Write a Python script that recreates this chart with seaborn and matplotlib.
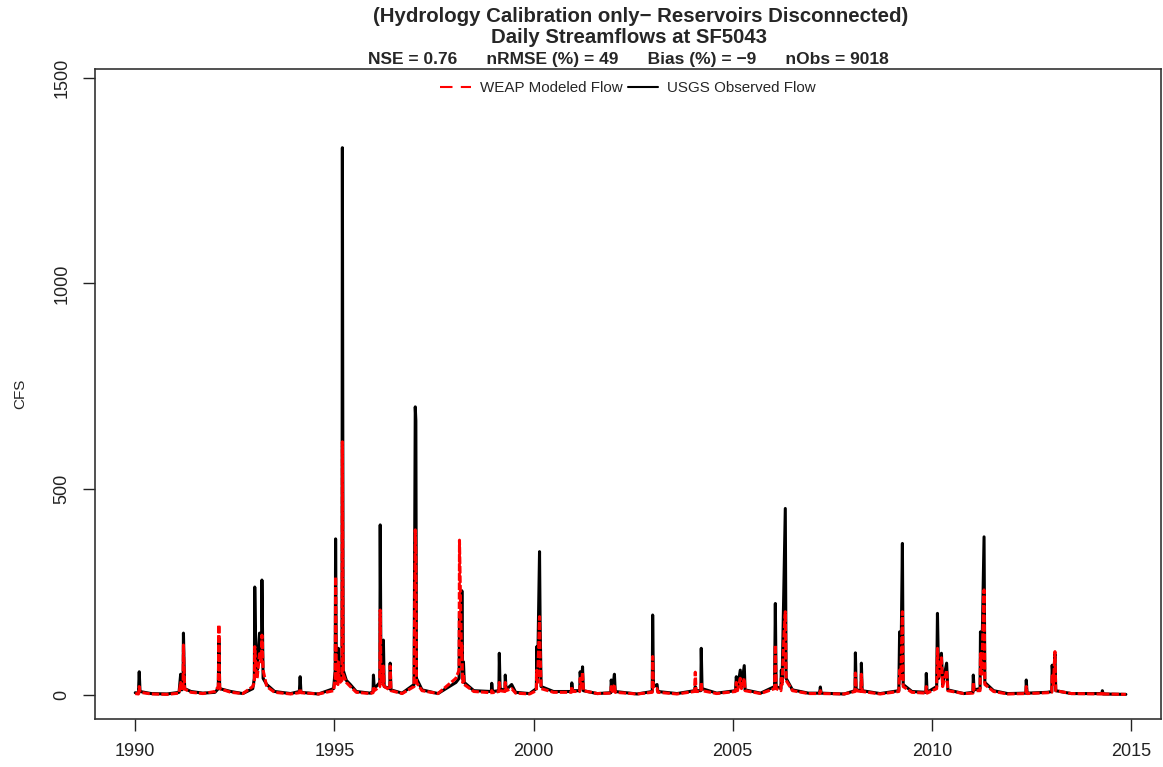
import matplotlib
matplotlib.use("Agg")
import matplotlib.pyplot as plt
import seaborn as sns
import pandas as pd
from matplotlib.lines import Line2D

# ---- data (decimal year, observed cfs, modeled cfs) ----
dates = [
    1990.00, 1990.08, 1990.10, 1990.12, 1990.40, 1990.80,
    1991.10, 1991.14, 1991.17, 1991.20, 1991.21, 1991.24, 1991.40, 1991.70,
    1992.00, 1992.085, 1992.10, 1992.12, 1992.40, 1992.70,
    1992.95, 1992.99, 1993.00, 1993.03, 1993.06, 1993.12, 1993.17, 1993.18, 1993.21, 1993.30, 1993.50, 1993.90,
    1994.12, 1994.14, 1994.16, 1994.60,
    1994.98, 1995.02, 1995.03, 1995.05, 1995.09, 1995.10, 1995.12, 1995.19, 1995.20, 1995.22, 1995.30, 1995.40, 1995.55, 1995.90,
    1995.97, 1995.98, 1996.00, 1996.14, 1996.15, 1996.17, 1996.22, 1996.23, 1996.25, 1996.39, 1996.40, 1996.42, 1996.70,
    1997.00, 1997.03, 1997.045, 1997.06, 1997.20, 1997.60,
    1998.05, 1998.13, 1998.14, 1998.19, 1998.20, 1998.22, 1998.24, 1998.26, 1998.50,
    1998.94, 1998.95, 1998.97, 1999.13, 1999.14, 1999.16, 1999.28, 1999.29, 1999.31, 1999.45, 1999.55, 1999.90,
    2000.07, 2000.08, 2000.10, 2000.15, 2000.165, 2000.19, 2000.50,
    2000.95, 2000.96, 2000.98, 2001.16, 2001.17, 2001.20, 2001.23, 2001.25, 2001.60,
    2001.94, 2001.95, 2001.98, 2002.03, 2002.05, 2002.60,
    2002.98, 2002.99, 2003.01, 2003.10, 2003.12, 2003.60,
    2004.04, 2004.06, 2004.08, 2004.20, 2004.21, 2004.23, 2004.60,
    2005.07, 2005.09, 2005.12, 2005.19, 2005.22, 2005.29, 2005.31, 2005.70,
    2006.05, 2006.07, 2006.09, 2006.21, 2006.22, 2006.24, 2006.29, 2006.32, 2006.34, 2006.50, 2006.90,
    2007.18, 2007.20, 2007.22, 2007.80,
    2008.07, 2008.08, 2008.10, 2008.22, 2008.23, 2008.25, 2008.70,
    2009.17, 2009.19, 2009.22, 2009.26, 2009.28, 2009.50, 2009.85, 2009.86, 2009.88,
    2010.12, 2010.14, 2010.17, 2010.24, 2010.27, 2010.37, 2010.40, 2010.80,
    2011.03, 2011.04, 2011.06, 2011.21, 2011.22, 2011.25, 2011.31, 2011.33, 2011.55, 2011.90,
    2012.36, 2012.37, 2012.39, 2012.90,
    2013.01, 2013.02, 2013.05, 2013.09, 2013.11, 2013.50,
    2014.27, 2014.28, 2014.30, 2014.87,
]
observed = [
    5, 4, 56, 8, 3, 2,
    6, 50, 12, 20, 150, 15, 8, 4,
    6, 15, 138, 15, 8, 3,
    15, 40, 262, 80, 60, 150, 100, 279, 40, 25, 8, 3,
    8, 44, 6, 2,
    15, 60, 379, 40, 30, 113, 35, 40, 1330, 60, 35, 25, 8, 4,
    8, 48, 15, 30, 413, 40, 30, 133, 20, 15, 77, 12, 4,
    25, 700, 666, 40, 12, 3,
    30, 40, 200, 120, 253, 40, 80, 30, 10,
    8, 28, 8, 10, 101, 15, 10, 48, 12, 25, 6, 3,
    15, 117, 40, 348, 170, 20, 8,
    8, 29, 10, 10, 56, 20, 68, 10, 3,
    5, 36, 10, 50, 8, 2,
    8, 194, 20, 25, 8, 3,
    10, 20, 10, 10, 113, 15, 4,
    10, 44, 15, 60, 20, 71, 12, 4,
    20, 222, 20, 15, 60, 30, 296, 453, 40, 12, 4,
    4, 19, 4, 2,
    10, 102, 12, 10, 77, 10, 3,
    10, 153, 40, 368, 25, 8, 6, 52, 6,
    20, 198, 40, 101, 25, 77, 12, 3,
    6, 48, 12, 15, 153, 60, 384, 30, 10, 3,
    4, 36, 4, 6,
    8, 72, 30, 99, 10, 3,
    3, 10, 2, 1,
]
modeled = [
    3, 2, 20, 6, 2, 1,
    4, 30, 10, 15, 121, 14, 6, 3,
    8, 20, 170, 15, 6, 3,
    20, 30, 117, 60, 40, 100, 80, 145, 60, 20, 6, 2,
    5, 15, 5, 2,
    10, 40, 287, 30, 25, 80, 28, 35, 615, 50, 30, 20, 6, 3,
    5, 20, 10, 20, 206, 35, 25, 70, 20, 12, 70, 10, 3,
    20, 401, 345, 30, 10, 3,
    40, 60, 376, 100, 120, 30, 50, 25, 8,
    5, 10, 5, 8, 30, 10, 8, 30, 10, 15, 4, 2,
    10, 60, 30, 190, 100, 15, 6,
    6, 20, 8, 8, 40, 20, 55, 10, 3,
    4, 20, 8, 25, 6, 2,
    6, 93, 15, 15, 6, 2,
    8, 55, 8, 8, 30, 10, 3,
    8, 30, 10, 40, 15, 40, 10, 3,
    15, 121, 15, 10, 40, 25, 150, 202, 35, 10, 3,
    3, 10, 3, 2,
    8, 53, 10, 8, 50, 8, 2,
    8, 60, 40, 202, 20, 6, 4, 20, 4,
    15, 113, 40, 90, 20, 60, 10, 3,
    4, 30, 10, 10, 100, 50, 255, 25, 8, 2,
    3, 20, 3, 5,
    6, 50, 25, 105, 10, 3,
    2, 8, 2, 1,
]
x_ticks = [1990, 1995, 2000, 2005, 2010, 2015]
y_ticks = [0, 500, 1000, 1500]
title_line1 = "(Hydrology Calibration only\u2212 Reservoirs Disconnected)"
title_line2 = "Daily Streamflows at SF5043"
stats_line = "NSE = 0.76      nRMSE (%) = 49      Bias (%) = \u22129      nObs = 9018"
legend_labels = ["WEAP Modeled Flow", "USGS Observed Flow"]

df = pd.DataFrame({"date": dates, "observed": observed, "modeled": modeled})

sns.set_style("ticks")
plt.rcParams["font.family"] = ["Liberation Sans", "DejaVu Sans"]

fig = plt.figure(figsize=(11.63, 7.67), dpi=100)
ax = fig.add_axes([0.0817, 0.0626, 0.9165, 0.8475])

sns.lineplot(data=df, x="date", y="observed", ax=ax, color="black",
             linewidth=2.2, estimator=None, sort=False, legend=False)
sns.lineplot(data=df, x="date", y="modeled", ax=ax, color="#ff0000",
             linewidth=2.2, estimator=None, sort=False, legend=False)
ax.lines[-1].set_dashes((2.4, 0.7))

ax.set_xlim(1988.99, 2015.75)
ax.set_ylim(-58.8, 1521.5)
ax.set_xticks(x_ticks)
ax.set_xticklabels([str(t) for t in x_ticks])
ax.set_yticks(y_ticks)
ax.set_yticklabels([str(t) for t in y_ticks], rotation=90, va="center")
ax.set_xlabel("")
ax.set_ylabel("CFS", fontsize=11, labelpad=19)
ax.tick_params(axis="both", length=8.5, width=1.0, labelsize=13, colors="#222222")
ax.tick_params(axis="x", pad=9)
ax.tick_params(axis="y", pad=9)
for s in ax.spines.values():
    s.set_visible(True)
    s.set_color("#333333")
    s.set_linewidth(1.2)

fig.text(0.551, 0.978, title_line1, ha="center", va="center", fontsize=14.7, fontweight="bold")
fig.text(0.541, 0.951, title_line2, ha="center", va="center", fontsize=14.7, fontweight="bold")
fig.text(0.540, 0.923, stats_line, ha="center", va="center", fontsize=12.5, fontweight="bold")

handles = [Line2D([], [], color="#ff0000", linewidth=1.5, linestyle=(0, (6, 4))),
           Line2D([], [], color="black", linewidth=1.5)]
ax.legend(handles, legend_labels, loc="upper center", bbox_to_anchor=(0.5, 1.002),
          ncol=2, frameon=False, fontsize=10.9, handlelength=2.0, columnspacing=0.35,
          handletextpad=0.6)

fig.savefig("out.png", dpi=100)
